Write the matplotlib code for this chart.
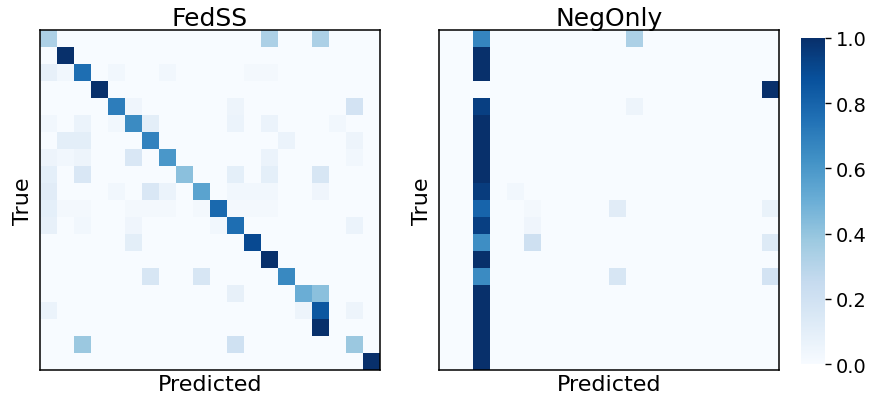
import numpy as np
import matplotlib
matplotlib.use("Agg")
from matplotlib import pyplot as plt

n_classes = 20

# row -> {predicted column: fraction}
fedss_rows = [
    {0: 0.33, 13: 0.33, 16: 0.33},
    {1: 1.0},
    {0: 0.08, 1: 0.03, 2: 0.76, 4: 0.03, 7: 0.03, 12: 0.02, 13: 0.02},
    {3: 1.0},
    {4: 0.70, 5: 0.04, 11: 0.05, 18: 0.18},
    {0: 0.03, 2: 0.06, 4: 0.03, 5: 0.65, 6: 0.10, 11: 0.06, 13: 0.06, 17: 0.03},
    {1: 0.10, 2: 0.10, 6: 0.68, 14: 0.06, 18: 0.05},
    {0: 0.05, 1: 0.03, 2: 0.05, 5: 0.15, 7: 0.60, 13: 0.06, 18: 0.03},
    {0: 0.09, 2: 0.15, 8: 0.42, 11: 0.09, 13: 0.09, 16: 0.16},
    {0: 0.11, 4: 0.03, 6: 0.15, 7: 0.06, 9: 0.55, 11: 0.03, 12: 0.03, 13: 0.03, 16: 0.04},
    {0: 0.09, 1: 0.02, 2: 0.02, 5: 0.02, 6: 0.02, 7: 0.02, 9: 0.02, 10: 0.78, 11: 0.02, 12: 0.02, 13: 0.02},
    {0: 0.08, 2: 0.03, 5: 0.04, 10: 0.03, 11: 0.76, 18: 0.06},
    {5: 0.10, 12: 0.90},
    {13: 1.0},
    {6: 0.16, 9: 0.16, 14: 0.66},
    {11: 0.08, 15: 0.50, 16: 0.42},
    {0: 0.06, 15: 0.05, 16: 0.85, 18: 0.05},
    {16: 1.0},
    {2: 0.38, 11: 0.20, 18: 0.38},
    {19: 1.0},
]

negonly_rows = [
    {2: 0.67, 11: 0.33},
    {2: 1.0},
    {2: 1.0},
    {19: 1.0},
    {2: 0.94, 11: 0.05},
    {2: 1.0},
    {2: 1.0},
    {2: 1.0},
    {2: 1.0},
    {2: 0.95, 4: 0.03},
    {2: 0.80, 5: 0.02, 10: 0.11, 19: 0.07},
    {2: 0.94, 5: 0.04},
    {2: 0.64, 5: 0.21, 19: 0.13},
    {2: 1.0},
    {2: 0.65, 10: 0.16, 19: 0.18},
    {2: 1.0},
    {2: 1.0},
    {2: 1.0},
    {2: 1.0},
    {2: 1.0},
]

titles = ["FedSS", "NegOnly"]
cbar_ticks = [0.0, 0.2, 0.4, 0.6, 0.8, 1.0]


def to_matrix(rows):
    m = np.zeros((n_classes, n_classes))
    for i, r in enumerate(rows):
        for j, v in r.items():
            m[i, j] = v
    return m


mats = [to_matrix(fedss_rows), to_matrix(negonly_rows)]

fig = plt.figure(figsize=(8.69, 4.02), dpi=100)
ax_pos = [[0.046, 0.077, 0.391, 0.845], [0.505, 0.077, 0.391, 0.845]]

for k in range(2):
    ax = fig.add_axes(ax_pos[k])
    im = ax.imshow(mats[k], cmap="Blues", vmin=0, vmax=1, aspect="auto",
                   interpolation="nearest")
    ax.set_xticks([])
    ax.set_yticks([])
    ax.set_title(titles[k], fontsize=18, pad=4)
    ax.set_xlabel("Predicted", fontsize=16, labelpad=3)
    ax.set_ylabel("True", fontsize=16, labelpad=5)
    for s in ax.spines.values():
        s.set_linewidth(1.1)

cax = fig.add_axes([0.922, 0.092, 0.0276, 0.811])
cb = fig.colorbar(im, cax=cax, ticks=cbar_ticks)
cb.outline.set_visible(False)
cb.ax.tick_params(labelsize=14, length=4, width=1)
cb.ax.set_yticklabels(["%.1f" % t for t in cbar_ticks])

fig.savefig("out.png", dpi=100)
